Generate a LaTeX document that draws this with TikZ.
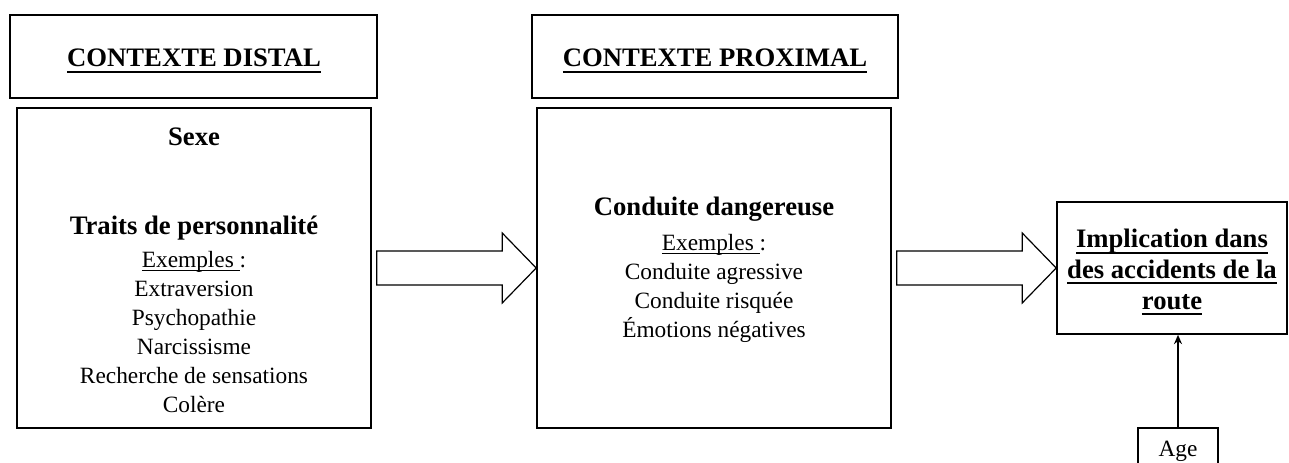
\documentclass[tikz,border=0pt]{standalone}
\usepackage{fontspec}
\setmainfont{Liberation Serif}
\usetikzlibrary{calc,arrows.meta}
\newsavebox{\boitetexte}
\newcommand{\ligne}[1]{\sbox{\boitetexte}{#1}\rlap{\rule[-4.3pt]{\wd\boitetexte}{1.3pt}}\usebox{\boitetexte}}
\newcommand{\soulign}[1]{\sbox{\boitetexte}{#1}\rlap{\rule[-2.9pt]{\wd\boitetexte}{0.7pt}}\usebox{\boitetexte}}

\tikzset{
	cadre/.style={draw, line width=1.2pt, inner sep=0pt},
	titre/.style={font=\fontsize{20}{23}\selectfont\bfseries, inner sep=0pt},
	texte/.style={font=\fontsize{17.5}{21.75}\selectfont, align=center, inner sep=0pt},
	bloc/.style={draw, line width=0.9pt, line join=miter},
}

\begin{document}
\begin{tikzpicture}[x=0.75pt, y=-0.75pt]
	% Cadre de la figure
	\useasboundingbox (0,0) rectangle (1289,463);
	\clip (0,0) rectangle (1289,463);
	% Boites
	\node[cadre, minimum width=275.25pt, minimum height=62.25pt] (distal) at (193.5,56.5) {};
	\node[cadre, minimum width=265.5pt, minimum height=240pt] (distbody) at (194,268) {};
	\node[cadre, minimum width=274.5pt, minimum height=62.25pt] (proximal) at (715,56.5) {};
	\node[cadre, minimum width=265.5pt, minimum height=240pt] (probody) at (714,268) {};
	\node[cadre, minimum width=172.5pt, minimum height=99pt] (accid) at (1172,268) {};
	\node[cadre, texte, minimum width=60pt, minimum height=34.5pt] (age) at (1178,451) {Age};
	% Titres
	\node[titre, anchor=base] (tdistal) at (194,67) {\ligne{CONTEXTE DISTAL}};
	\node[titre, anchor=base] (tproximal) at (715,67) {\ligne{CONTEXTE PROXIMAL}};
	% Contexte distal
	\node[titre, anchor=base] (sexe) at (194,146) {Sexe};
	\node[titre, anchor=base] (traits) at (194,235) {Traits de personnalité};
	\node[texte, anchor=north] (exdistal) at (194,251) {\soulign{Exemples\ }:\\Extraversion\\Psychopathie\\Narcissisme\\Recherche de sensations\\Colère};
	% Contexte proximal
	\node[titre, anchor=base] (conduite) at (714,216) {Conduite dangereuse};
	\node[texte, anchor=north] (exproximal) at (714,234) {\soulign{Exemples\ }:\\Conduite agressive\\Conduite risquée\\Émotions négatives};
	% Implication
	\node[titre, align=center, anchor=north] (implic) at (1172,229) {\ligne{Implication dans}\\\ligne{des accidents de la}\\\ligne{route}};
	% Fleches
	\foreach \a/\b in {distbody/probody, probody/accid}
		\draw[bloc] ($(\a.east)+(5,-17)$) -- ($(\b.west)+(-34,-17)$) -- ($(\b.west)+(-34,-35)$) -- (\b.west)
			-- ($(\b.west)+(-34,35)$) -- ($(\b.west)+(-34,17)$) -- ($(\a.east)+(5,17)$) -- cycle;
	\draw[>={Stealth[length=7pt, width=6pt]}, ->, line width=1.2pt] (age.north) -- (age.north |- accid.south);
\end{tikzpicture}
\end{document}
